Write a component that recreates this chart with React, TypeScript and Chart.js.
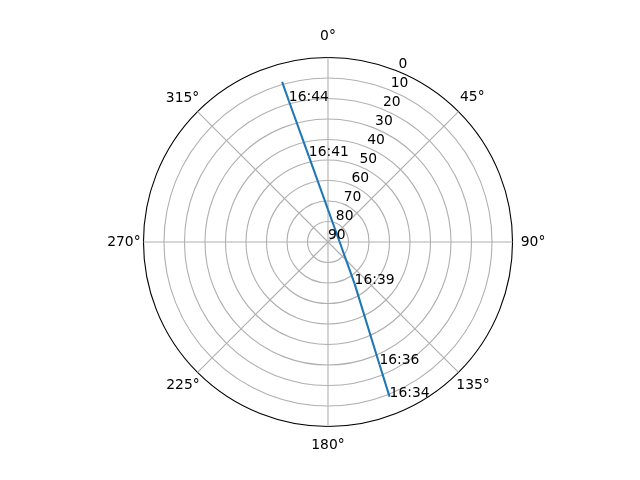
import React, { useEffect, useRef } from 'react';
import { Chart, registerables } from 'chart.js';

Chart.register(...registerables);

// ---- data ----
const AZIMUTH_TICK_LABELS = ['0°', '45°', '90°', '135°', '180°', '225°', '270°', '315°'];
const ELEVATION_TICK_VALUES = [0, 10, 20, 30, 40, 50, 60, 70, 80, 90];
const TIME_LABELS = ['16:34', '16:36', '16:39', '', '16:41', '16:44', ''];
const AZIMUTH_DEG = [158.3, 157.2, 147.5, 87.5, 347.4, 344.5, 344.0];
const ELEVATION_DEG = [8.8, 25.3, 65.9, 84.4, 47.2, 18.5, 8.8];

// ---- presentation ----
const STEPS = 10; // angular resolution: labels per degree
const N = 360 * STEPS;
const FONT = 'DejaVu Sans';
const FONT_SIZE = 13.89;
const R_LABEL_AZ = 22.5;
const LINE_COLOR = '#1f77b4';
const GRID_COLOR = '#b0b0b0';

const LABEL_PAD: Record<number, number> = { 0: 12.8, 45: 2.2, 90: 8.2, 135: -3, 180: 11, 225: -3, 270: 2.9, 315: -2.5 };
const LABEL_LH: Record<number, number> = { 0: 16.68, 45: 26, 90: 16.68, 135: 31, 180: 16.68, 225: 31, 270: 16.68, 315: 30 };

const azIndex = (az: number) => ((Math.round(az * STEPS) % N) + N) % N;
const toR = (el: number) => 90 - el;

const labels: string[] = Array.from({ length: N }, (_, i) =>
  i % (45 * STEPS) === 0 ? AZIMUTH_TICK_LABELS[i / (45 * STEPS)] : ''
);

function buildDatasets() {
  const ds: any[] = [];
  for (let k = 0; k < AZIMUTH_DEG.length - 1; k++) {
    const data: (number | null)[] = new Array(N).fill(null);
    data[azIndex(AZIMUTH_DEG[k])] = toR(ELEVATION_DEG[k]);
    data[azIndex(AZIMUTH_DEG[k + 1])] = toR(ELEVATION_DEG[k + 1]);
    ds.push({
      data,
      borderColor: LINE_COLOR,
      backgroundColor: LINE_COLOR,
      borderWidth: 2.08,
      pointRadius: 0,
      pointHoverRadius: 0,
      pointHitRadius: 0,
      fill: false,
      spanGaps: true,
      tension: 0,
    });
  }
  return ds;
}

const textPlugin = {
  id: 'polarText',
  afterDatasetsDraw(chart: any) {
    const scale = chart.scales.r;
    const ctx = chart.ctx;
    ctx.save();
    ctx.font = `${FONT_SIZE}px "${FONT}"`;
    ctx.fillStyle = '#000';
    ctx.textAlign = 'left';
    ctx.textBaseline = 'alphabetic';
    const ri = azIndex(R_LABEL_AZ);
    ELEVATION_TICK_VALUES.forEach((v) => {
      const p = scale.getPointPositionForValue(ri, toR(v));
      ctx.fillText(String(v), p.x, p.y - 3.1);
    });
    TIME_LABELS.forEach((t, k) => {
      if (!t) return;
      const p = scale.getPointPositionForValue(azIndex(AZIMUTH_DEG[k]), toR(ELEVATION_DEG[k]));
      ctx.fillText(t, p.x, p.y);
    });
    ctx.restore();
  },
};

export default function App() {
  const ref = useRef<HTMLCanvasElement | null>(null);
  useEffect(() => {
    if (!ref.current) return;
    const chart = new Chart(ref.current, {
      type: 'radar',
      data: { labels, datasets: buildDatasets() },
      options: {
        animation: false,
        responsive: true,
        maintainAspectRatio: false,
        events: [],
        layout: { padding: { top: 28, bottom: 24, left: 16, right: 0 } },
        plugins: { legend: { display: false }, tooltip: { enabled: false } },
        scales: {
          r: {
            min: 0,
            max: 90,
            startAngle: 0,
            ticks: { display: false, stepSize: 10 },
            grid: {
              circular: true,
              color: (c: any) => (c.tick && c.tick.value === 90 ? '#000000' : GRID_COLOR),
              lineWidth: 1.1,
            },
            angleLines: {
              display: true,
              color: GRID_COLOR,
              lineWidth: (c: any) => (c.index % (45 * STEPS) === 0 ? 1.1 : 0),
            },
            pointLabels: {
              display: true,
              color: '#000',
              padding: (c: any) => {
                if (c.index % (45 * STEPS) !== 0) return 0;
                return LABEL_PAD[c.index / STEPS];
              },
              font: (c: any) => {
                const deg = c.index / STEPS;
                const lh = c.index % (45 * STEPS) === 0 ? LABEL_LH[deg] : 16.68;
                return { family: FONT, size: FONT_SIZE, lineHeight: `${lh}px` };
              },
            },
          },
        },
      } as any,
      plugins: [textPlugin],
    });
    return () => chart.destroy();
  }, []);
  return (
    <div style={{ position: 'absolute', left: 0, top: 0, width: 640, height: 480, background: '#fff' }}>
      <canvas ref={ref} />
    </div>
  );
}
